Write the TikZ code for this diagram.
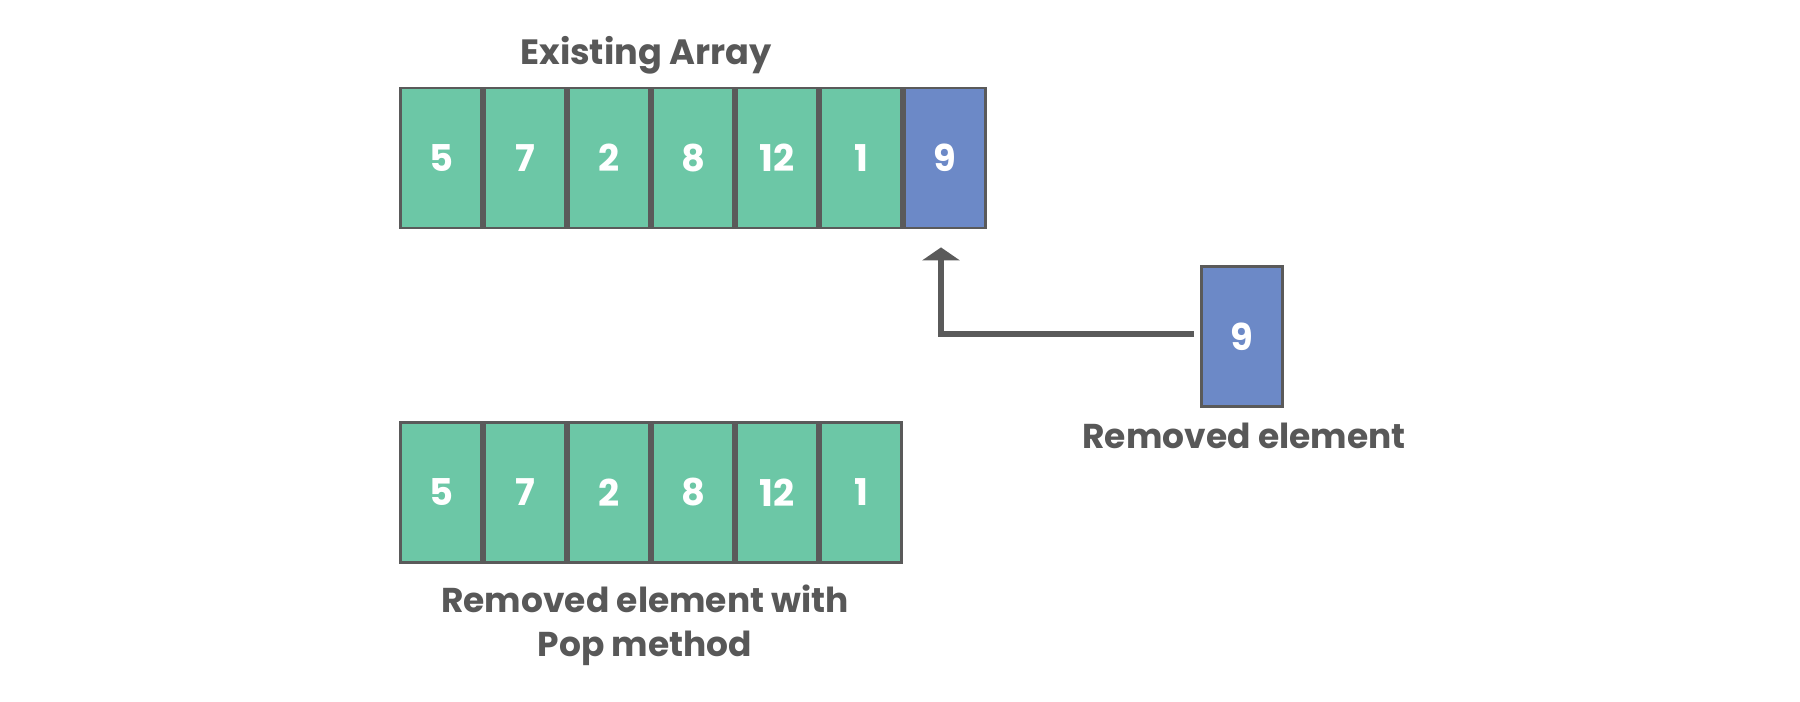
\documentclass[tikz,border=0pt]{standalone}
\usepackage{fontspec}
\setmainfont{Poppins}
\usepackage{tikz}
\usetikzlibrary{arrows.meta,positioning,calc}
\definecolor{cellgreen}{RGB}{108,199,166}
\definecolor{cellblue}{RGB}{108,137,199}
\definecolor{edgegray}{RGB}{90,90,90}
\definecolor{textgray}{RGB}{88,88,88}
\tikzset{>=latex}
\tikzset{cell/.style={draw=edgegray, line width=0.8pt, fill=cellgreen, minimum width=8.1mm, minimum height=14.0mm, inner sep=0pt, text=white, font=\fontsize{10.5}{12}\selectfont\bfseries}}
\tikzset{popped/.style={cell, fill=cellblue}}
\tikzset{caption/.style={text=textgray, font=\fontsize{9.8}{12.8}\selectfont\bfseries, align=center, inner sep=0pt}}
\tikzset{line/.style={draw=edgegray, line width=1.45pt}}

\begin{document}
\begin{tikzpicture}[x=0.1mm, y=-0.1mm]
      \useasboundingbox (0,0) rectangle (1800,702);
      \foreach \v [count=\i] in {5,7,2,8,12,1}
        \node [cell] (t\i) at ({399+84*(\i-0.5)},158) {\v};
      \node [popped] (t7) at ({399+84*6.5},158) {9};
      \foreach \v [count=\i] in {5,7,2,8,12,1}
        \node [cell] (b\i) at ({399+84*(\i-0.5)},492.5) {\v};
      \node [popped] (rem) at (1242,336.5) {9};
      \node [caption, anchor=base, font=\fontsize{10}{12}\selectfont\bfseries] (title) at (646,65) {Existing Array};
      \node [caption, anchor=base] (remlabel) at (1244,449) {Removed element};
      \node [caption, anchor=base] (poplabel) at (645,657) {Removed element with\\Pop method};
      \path [line,-{Triangle[width=3.7mm,length=1.3mm]}, shorten <=0.6mm, shorten >=1.8mm] ([yshift=0.25mm]rem.west) -| ([xshift=-0.4mm]t7.south);
\end{tikzpicture}
\end{document}
